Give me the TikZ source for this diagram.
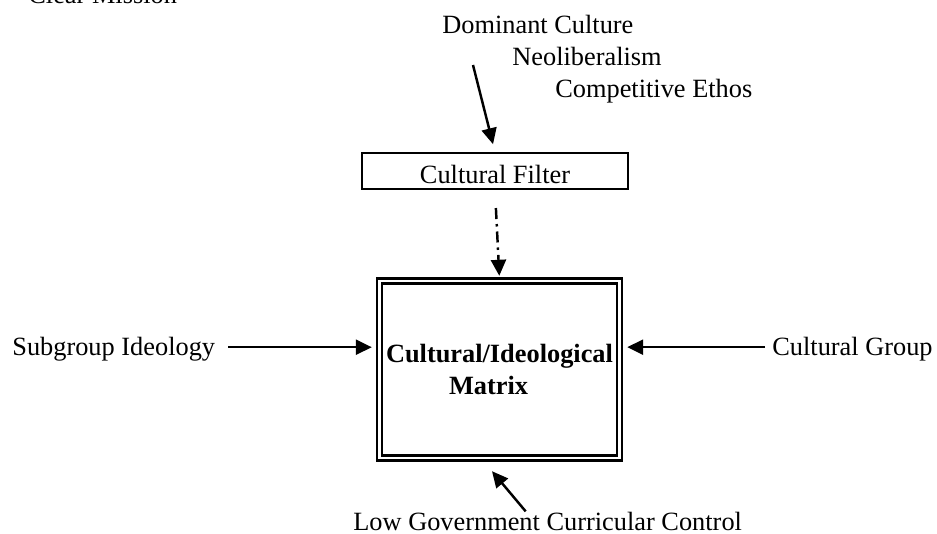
\documentclass[tikz,border=0pt]{standalone}
\usepackage{fontspec}
\setmainfont{Liberation Serif}
\usetikzlibrary{arrows.meta,positioning}

\begin{document}
\begin{tikzpicture}[x=0.02cm,y=-0.02cm,>={Triangle[length=0.32cm,width=0.3cm]}]
	\tikzset{txt/.style={inner sep=0pt, font=\fontsize{15}{18}\selectfont},
		fblock/.style={draw, shape=rectangle, line width=1.2pt, minimum width=5.32cm, minimum height=0.72cm,
			inner ysep=0pt, text height=0.62cm, text depth=0.1cm, font=\fontsize{15}{18}\selectfont},
		mblock/.style={draw, shape=rectangle, double, line width=1.4pt, double distance=1.3pt,
			minimum width=4.8cm, minimum height=3.54cm, align=left, font=\fontsize{15}{18.2}\bfseries\selectfont},
		arr/.style={->, line width=1.4pt},
	}
	\useasboundingbox (0,0) rectangle (937,534);
	\node [txt, anchor=base west] (clear) at (28,4) {Clear Mission};
	\node [txt, anchor=base west] (dom) at (442,33) {Dominant Culture};
	\node [txt, anchor=base west] (neo) at (512,65) {Neoliberalism};
	\node [txt, anchor=base west] (comp) at (555,97) {Competitive Ethos};
	\node [fblock] (filter) at (495,171) {Cultural Filter};
	\node [mblock] (mat) at (499.5,369.5) {Cultural/Ideological\\\hspace*{1.26cm}Matrix};
	\node [txt, anchor=base west] (sub) at (12,355) {Subgroup Ideology};
	\node [txt, anchor=base west] (grp) at (772,355) {Cultural Group};
	\node [txt, anchor=base west] (low) at (353,530) {Low Government Curricular Control};
	\coordinate (domtail) at (473,65);
	\coordinate (lowtail) at ([shift={(-22,0)}]low.north);
	\draw [arr, shorten >=0.16cm] (domtail) -- (filter.north);
	\draw [arr, dash pattern=on 0.22cm off 0.1cm on 0.05cm off 0.1cm,
		shorten <=0.36cm, shorten >=0.08cm] (filter.south) -- (mat.north);
	\draw [arr, shorten <=0.26cm, shorten >=0.13cm] ([yshift=0.03cm]sub.east) -- ([yshift=0.03cm]sub.east -| mat.west);
	\draw [arr, shorten <=0.14cm, shorten >=0.13cm] ([yshift=0.03cm]grp.west) -- ([yshift=0.03cm]grp.west -| mat.east);
	\draw [arr] (lowtail) -- ([shift={(-7.5,12)}]mat.south);
\end{tikzpicture}
\end{document}
